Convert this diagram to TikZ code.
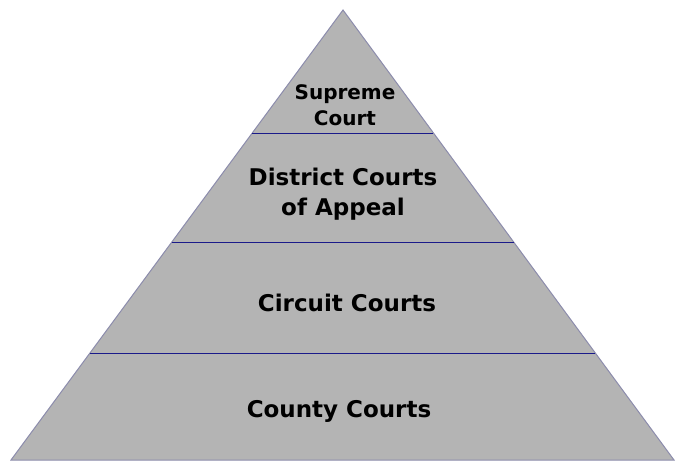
\documentclass[tikz,border=0pt]{standalone}
\usepackage{fontspec}
\setmainfont{DejaVu Sans}
\usetikzlibrary{calc}
\definecolor{pyrfill}{HTML}{B4B4B4}
\definecolor{pyredge}{HTML}{8C8CAC}
\definecolor{tierline}{HTML}{1A1A8A}
\tikzset{
  tierlabel/.style={font=\bfseries\fontsize{23}{30}\selectfont, text=black, align=center, inner sep=0pt},
  tierdiv/.style={draw=tierline, line width=0.9pt}
}
\begin{document}
\begin{tikzpicture}[x=1pt,y=-1pt]
\useasboundingbox (0,0) rectangle (684,475);
\coordinate (apex) at (343,10);
\coordinate (bl) at (11,460);
\coordinate (br) at (674,460);
\fill[pyrfill] (apex) -- (bl) -- (br) -- cycle;
\draw[pyredge, line width=1pt, line join=miter] (apex) -- (bl) -- (br) -- cycle;
\coordinate (l1) at ($(apex)!0.2733!(bl)$);
\coordinate (r1) at ($(apex)!0.2733!(br)$);
\coordinate (l2) at ($(apex)!0.5156!(bl)$);
\coordinate (r2) at ($(apex)!0.5156!(br)$);
\coordinate (l3) at ($(apex)!0.7622!(bl)$);
\coordinate (r3) at ($(apex)!0.7622!(br)$);
\draw[tierdiv] (l1) -- (r1);
\draw[tierdiv] (l2) -- (r2);
\draw[tierdiv] (l3) -- (r3);
\node[tierlabel, font=\bfseries\fontsize{20}{26}\selectfont] (supreme) at (345,105) {Supreme\\Court};
\node[tierlabel] (district) at (343,194) {District Courts\\of Appeal};
\node[tierlabel] (circuit) at (347,303) {Circuit Courts};
\node[tierlabel] (county) at (339,411) {County Courts};
\end{tikzpicture}
\end{document}
